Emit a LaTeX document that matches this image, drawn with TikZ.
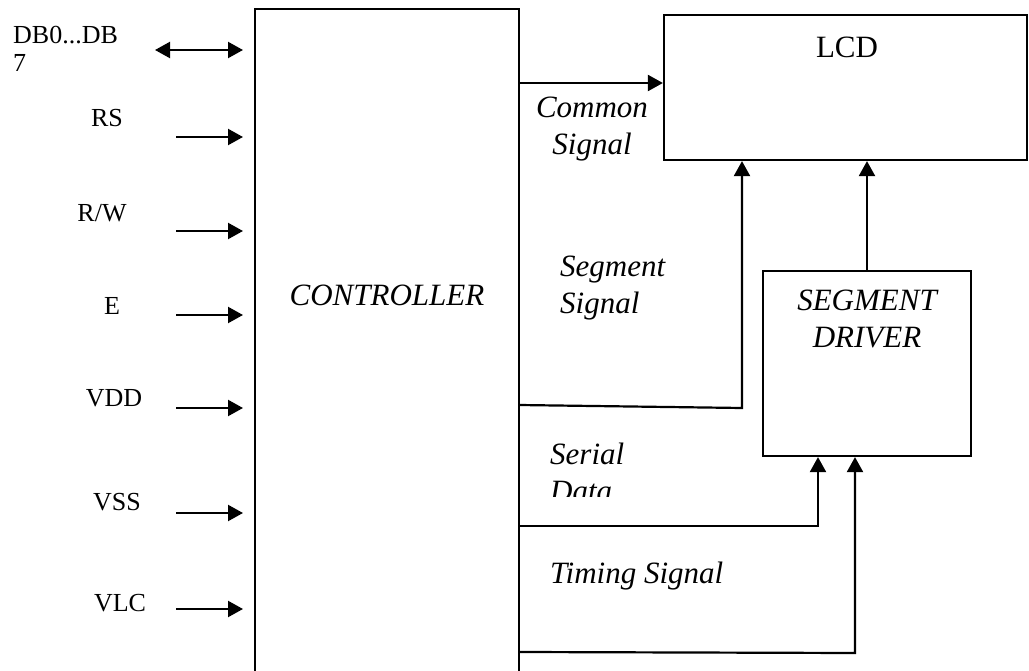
\documentclass[tikz,border=0pt]{standalone}
\usepackage{fontspec}
\setmainfont{Liberation Serif}
\usetikzlibrary{arrows.meta}
\begin{document}
\begin{tikzpicture}[x=1pt,y=-1pt,
  ln/.style={line width=2.2pt},
  arr/.style={line width=2.2pt,-{Triangle[length=15pt,width=16pt]}},
  darr/.style={line width=2.2pt,{Triangle[length=15pt,width=16pt]}-{Triangle[length=15pt,width=16pt]}},
  lbl/.style={font=\fontsize{26}{28}\selectfont,inner sep=0pt},
  ilbl/.style={font=\fontsize{31}{37}\selectfont\itshape,inner sep=0pt,align=left},
  boxn/.style={draw,line width=2.2pt,inner sep=0pt}]
\useasboundingbox (0,0) rectangle (1029,671);
% controller (open at the bottom)
\node[inner sep=0pt,minimum width=264pt,minimum height=662pt] (ctrl) at (387,340) {};
\draw[ln] (ctrl.south west) |- (ctrl.north east) -- (ctrl.south east);
\node[ilbl] (ctrltext) at (387,295) {CONTROLLER};
% LCD
\node[boxn,minimum width=363pt,minimum height=145pt] (lcd) at (845.5,87.5) {};
\node[font=\fontsize{31}{37}\selectfont,inner sep=0pt] (lcdtext) at (847,47) {LCD};
% segment driver
\node[boxn,minimum width=208pt,minimum height=185pt] (sd) at (867,363.5) {};
\node[ilbl,align=center] (sdtext) at (867,319) {SEGMENT\\[0pt]DRIVER};
% left inputs
\node[lbl,anchor=west,align=left] (db) at (13,49) {DB0...DB\\[0pt]7};
\coordinate (dbA) at (155,50); \coordinate (dbB) at (243,50);
\draw[darr] (dbA) -- (dbB);
\foreach \n/\t/\tx/\ty/\ay in {rs/RS/107/118/137, rw/R\slash W/102/213/231, e/E/112/306/315, vdd/VDD/114/398/408, vss/VSS/117/502/513, vlc/VLC/120/603/609}{
  \node[lbl] (\n) at (\tx,\ty) {\t};
  \coordinate (\n a) at (176,\ay);
  \coordinate (\n b) at (243,\ay);
  \draw[arr] (\n a) -- (\n b);
}
% common signal
\coordinate (cs) at (519,83);
\draw[arr] (cs) -- (cs -| lcd.west);
\node[ilbl,align=center] (cstext) at (592,129) {Common\\[0pt]Signal};
% segment signal
\coordinate (ss0) at (519,405);
\coordinate (ss1) at (742,408);
\draw[arr] (ss0) -- (ss1) -- (ss1 |- lcd.south);
\node[ilbl,anchor=west] (sstext) at (560,288) {Segment\\[0pt]Signal};
% driver to LCD
\draw[arr] (sd.north) -- (sd.north |- lcd.south);
% serial data
\coordinate (sr0) at (519,526);
\coordinate (sr1) at (818,526);
\draw[arr] (sr0) -- (sr1) -- (sr1 |- sd.south);
\begin{scope}
\clip (540,420) rectangle (720,496);
\node[ilbl,anchor=west] (srtext) at (550,472) {Serial\\[0pt]Data};
\end{scope}
% timing signal
\coordinate (tm0) at (519,652);
\coordinate (tm1) at (855,653);
\draw[arr] (tm0) -- (tm1) -- (tm1 |- sd.south);
\node[ilbl,anchor=west] (tmtext) at (550,576) {Timing Signal};
\end{tikzpicture}
\end{document}
